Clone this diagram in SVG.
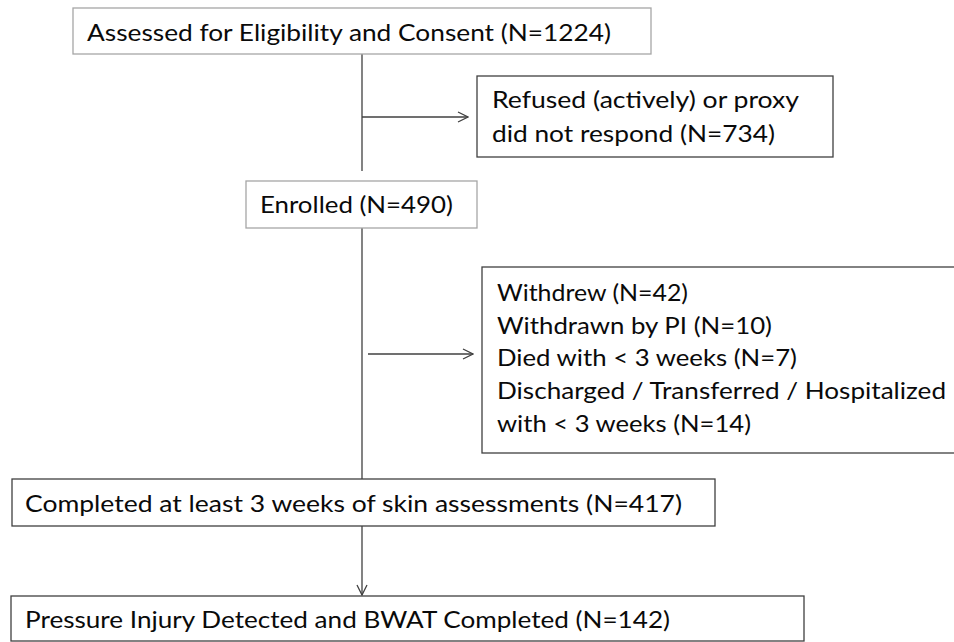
<svg xmlns="http://www.w3.org/2000/svg" width="954" height="642" viewBox="0 0 954 642">
<style>
.box{fill:#fff;stroke:#404040;stroke-width:1.3}
.box.light{stroke:#a6a6a6}
.t{font-family:Lato,"Open Sans","Liberation Sans",sans-serif;font-size:24px;fill:#0a0a0a}
.c{fill:none;stroke:#404040;stroke-width:1.3}
</style>
<defs>
<marker id="arr" markerUnits="userSpaceOnUse" markerWidth="12" markerHeight="12" refX="11" refY="6" orient="auto">
<path d="M1,1 L11,6 L1,11" fill="none" stroke="#404040" stroke-width="1.3"/>
</marker>
</defs>
<rect width="954" height="642" fill="#fff"/>
<g id="connectors">
<line class="c" x1="362" y1="54" x2="362" y2="171"/>
<line class="c" x1="362" y1="117" x2="468" y2="117" marker-end="url(#arr)"/>
<line class="c" x1="362" y1="228" x2="362" y2="479"/>
<line class="c" x1="368" y1="354" x2="473" y2="354" marker-end="url(#arr)"/>
<line class="c" x1="362" y1="526" x2="362" y2="595" marker-end="url(#arr)"/>
</g>
<g id="assessed">
<rect class="box light" x="73" y="8" width="578" height="46"/>
<text class="t" x="87" y="41" textLength="524" lengthAdjust="spacingAndGlyphs">Assessed for Eligibility and Consent (N=1224)</text>
</g>
<g id="refused">
<rect class="box" x="477" y="76" width="356" height="81"/>
<text class="t" x="492" y="108" textLength="307" lengthAdjust="spacingAndGlyphs">Refused (actively) or proxy</text>
<text class="t" x="492" y="142" textLength="283" lengthAdjust="spacingAndGlyphs">did not respond (N=734)</text>
</g>
<g id="enrolled">
<rect class="box light" x="246" y="181" width="231" height="47"/>
<text class="t" x="260" y="213" textLength="193" lengthAdjust="spacingAndGlyphs">Enrolled (N=490)</text>
</g>
<g id="withdrawn">
<rect class="box" x="482" y="267" width="490" height="186"/>
<text class="t" x="497" y="301" textLength="191" lengthAdjust="spacingAndGlyphs">Withdrew (N=42)</text>
<text class="t" x="497" y="334" textLength="275" lengthAdjust="spacingAndGlyphs">Withdrawn by PI (N=10)</text>
<text class="t" x="497" y="366" textLength="300" lengthAdjust="spacingAndGlyphs">Died with &lt; 3 weeks (N=7)</text>
<text class="t" x="497" y="399" textLength="449" lengthAdjust="spacingAndGlyphs">Discharged / Transferred / Hospitalized</text>
<text class="t" x="497" y="432" textLength="254" lengthAdjust="spacingAndGlyphs">with &lt; 3 weeks (N=14)</text>
</g>
<g id="completed">
<rect class="box" x="12" y="479" width="703" height="47"/>
<text class="t" x="25" y="512" textLength="657" lengthAdjust="spacingAndGlyphs">Completed at least 3 weeks of skin assessments (N=417)</text>
</g>
<g id="pressure">
<rect class="box" x="11" y="596" width="793" height="45"/>
<text class="t" x="25" y="628" textLength="645" lengthAdjust="spacingAndGlyphs">Pressure Injury Detected and BWAT Completed (N=142)</text>
</g>
</svg>
